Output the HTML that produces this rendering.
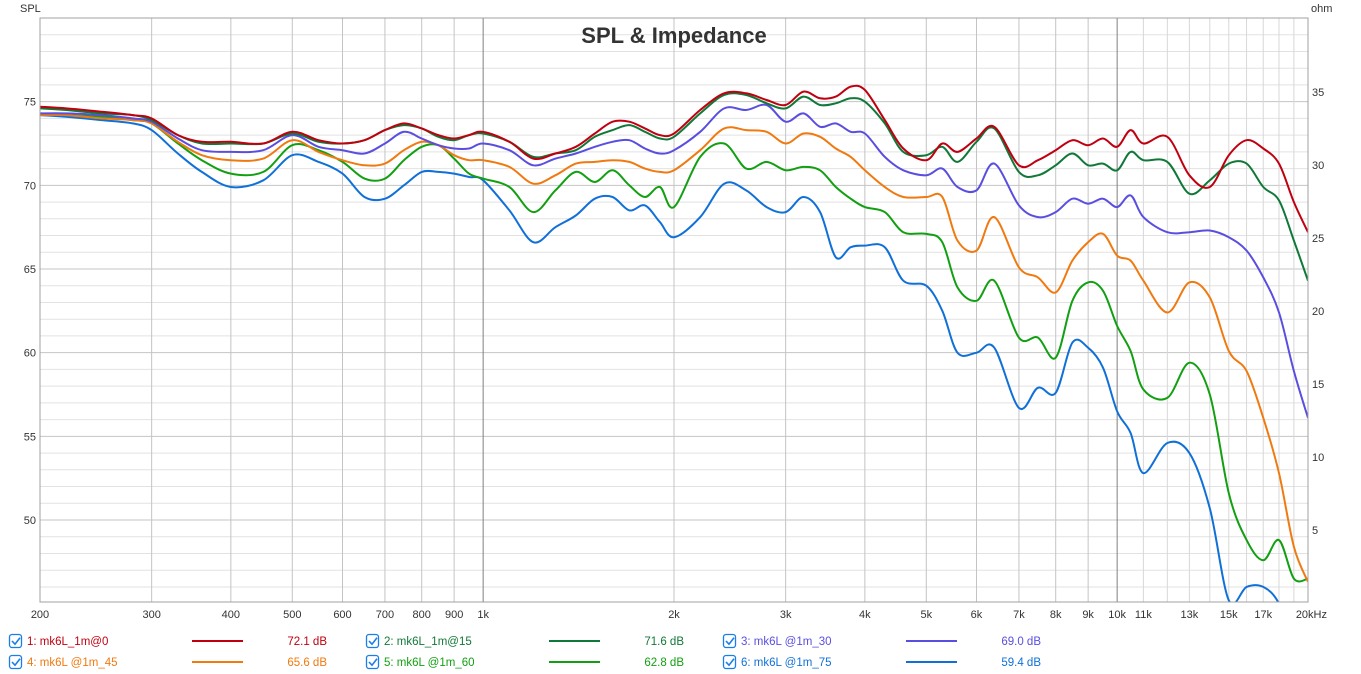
<!DOCTYPE html>
<html><head><meta charset="utf-8">
<style>
html,body{margin:0;padding:0;background:#fff;}
svg{display:block;font-family:"Liberation Sans",sans-serif;}
</style></head>
<body>
<svg id="chart" width="1361" height="674" viewBox="0 0 1361 674">
  <rect x="0" y="0" width="1361" height="674" fill="#fff"/>
  <g id="grid"></g>
  <g id="series" clip-path="url(#plotclip)"></g>
  <defs><clipPath id="plotclip"><rect x="40" y="18" width="1268" height="584"/></clipPath></defs>
  <rect x="40" y="18" width="1268" height="584" fill="none" stroke="#a0a0a0"/>
  <text x="674" y="43" text-anchor="middle" font-size="22" font-weight="bold" fill="#333">SPL &amp; Impedance</text>
  <text x="20" y="12" font-size="11" fill="#333">SPL</text>
  <text x="1311" y="12" font-size="11" fill="#333">ohm</text>
  <g id="axes"></g>
  <g id="legend"></g>
</svg>
<script>
const freqs = [200,220,250,280,300,330,360,400,450,500,550,600,650,700,750,800,850,900,950,1000,1100,1200,1300,1400,1500,1600,1700,1800,1900,2000,2200,2400,2600,2800,3000,3200,3400,3600,3800,4000,4300,4600,5000,5300,5600,6000,6400,7000,7500,8000,8500,9000,9500,10000,10500,11000,12000,13000,14000,15000,16000,17000,18000,19000,20000];
const s1 = [74.7,74.6,74.4,74.2,74.0,73.0,72.6,72.6,72.5,73.2,72.7,72.5,72.7,73.3,73.7,73.4,73.0,72.8,73.0,73.2,72.6,71.6,71.9,72.3,73.1,73.8,73.8,73.4,73.0,73.1,74.5,75.5,75.5,75.1,74.8,75.6,75.2,75.3,75.9,75.7,73.9,72.2,71.5,72.5,72.0,72.8,73.5,71.2,71.5,72.1,72.7,72.4,72.8,72.3,73.3,72.5,72.9,70.6,69.9,71.8,72.7,72.2,71.3,69.0,67.2];
const s2 = [74.6,74.5,74.3,74.2,73.9,73.0,72.5,72.5,72.5,73.1,72.6,72.5,72.7,73.3,73.6,73.4,72.9,72.7,73.0,73.1,72.6,71.7,71.9,72.1,72.9,73.3,73.6,73.2,72.8,72.9,74.3,75.4,75.4,74.9,74.6,75.3,74.8,74.9,75.2,75.0,73.7,72.0,71.8,72.3,71.4,72.6,73.4,70.8,70.6,71.2,71.9,71.2,71.3,70.9,72.0,71.5,71.4,69.5,70.3,71.3,71.3,69.9,69.1,66.7,64.3];
const s3 = [74.3,74.3,74.2,74.0,73.8,72.8,72.1,72.0,72.1,73.0,72.3,72.1,71.9,72.5,73.2,72.8,72.4,72.2,72.2,72.5,72.1,71.2,71.6,71.9,72.3,72.6,72.7,72.2,71.9,72.1,73.2,74.6,74.5,74.8,73.8,74.3,73.5,73.7,73.2,73.1,71.7,70.9,70.6,71.0,69.9,69.7,71.3,68.8,68.1,68.4,69.2,68.9,69.2,68.7,69.4,68.1,67.2,67.2,67.3,66.9,66.1,64.5,62.4,58.9,56.1];
const s4 = [74.2,74.2,74.0,73.9,73.7,72.6,71.8,71.5,71.6,72.7,72.0,71.5,71.2,71.3,72.1,72.6,72.4,71.8,71.5,71.5,71.1,70.1,70.6,71.3,71.4,71.5,71.4,71.0,70.8,70.9,72.1,73.4,73.3,73.2,72.5,73.1,72.9,72.2,71.7,70.9,69.9,69.3,69.3,69.3,66.7,66.1,68.1,65.1,64.5,63.6,65.5,66.6,67.1,65.8,65.5,64.3,62.4,64.2,63.3,60.1,58.9,56.1,52.8,48.4,46.3];
const s5 = [74.3,74.2,74.1,73.9,73.7,72.5,71.5,70.7,70.8,72.4,72.1,71.4,70.4,70.4,71.5,72.3,72.4,71.6,70.7,70.4,69.9,68.4,69.7,70.8,70.2,70.9,70.0,69.3,69.9,68.7,71.7,72.5,71.0,71.4,70.9,71.1,70.9,69.9,69.2,68.7,68.4,67.2,67.1,66.6,63.9,63.1,64.3,60.9,60.9,59.7,63.1,64.2,63.7,61.6,60.1,57.8,57.3,59.4,57.5,51.6,48.8,47.6,48.8,46.5,46.5];
const s6 = [74.2,74.1,73.9,73.7,73.3,71.9,70.8,69.9,70.3,71.8,71.4,70.7,69.3,69.2,70.0,70.8,70.8,70.7,70.5,70.3,68.5,66.6,67.5,68.2,69.2,69.3,68.5,68.8,67.8,66.9,68.1,70.1,69.7,68.7,68.4,69.3,68.4,65.7,66.3,66.4,66.3,64.3,64.0,62.5,60.0,60.0,60.3,56.7,57.9,57.6,60.6,60.3,59.1,56.5,55.2,52.8,54.6,54.0,50.7,45.2,46.0,46.0,45.0,42.4,40.4];
const seriesNames = ["1: mk6L_1m@0","2: mk6L_1m@15","3: mk6L @1m_30","4: mk6L @1m_45","5: mk6L @1m_60","6: mk6L @1m_75"];
const seriesAvg = ["72.1 dB","71.6 dB","69.0 dB","65.6 dB","62.8 dB","59.4 dB"];
const yTicks = [50,55,60,65,70,75];
const ohmTicks = [5,10,15,20,25,30,35];
const xTickVals = [200,300,400,500,600,700,800,900,1000,2000,3000,4000,5000,6000,7000,8000,9000,10000,11000,13000,15000,17000,20000];
const xTickLabels = ["200","300","400","500","600","700","800","900","1k","2k","3k","4k","5k","6k","7k","8k","9k","10k","11k","13k","15k","17k","20kHz"];

const colors = ["#c00010","#107838","#5a4ee0","#f07a10","#12a012","#1070d8"];
const X0=40,X1=1308,Y0=18,Y1=602, DBMIN=45.1, DBMAX=80.0;
const xs = f => X0 + (X1-X0)*Math.log10(f/200)/2;
const ys = d => Y1 - (Y1-Y0)*(d-DBMIN)/(DBMAX-DBMIN);
const ohmY = o => 530 - (o-5)*14.6;
const NS="http://www.w3.org/2000/svg";
function mk(tag,attrs,parent){const e=document.createElementNS(NS,tag);for(const k in attrs)e.setAttribute(k,attrs[k]);parent.appendChild(e);return e;}

const grid=document.getElementById('grid');
for(let d=46; d<=80; d++){
  const l=mk('line',{x1:X0,x2:X1,y1:ys(d),y2:ys(d),stroke:d%5===0?'#c4c4c4':'#e2e2e2','stroke-width':1},grid);
  
  
}
const vlines=[];
for(let f=300;f<=1000;f+=100)vlines.push(f);
for(let f=2000;f<=20000;f+=1000)vlines.push(f);
vlines.forEach(f=>{
  const major=(f===1000||f===10000);
  const minor=f>10000;
  const l=mk('line',{x1:xs(f),x2:xs(f),y1:Y0,y2:Y1,stroke:major?'#808080':(minor?'#d8d8d8':'#c4c4c4'),'stroke-width':1},grid);
  
  
});

const axes=document.getElementById('axes');
yTicks.forEach(v=>{
  const t=mk('text',{x:36,y:ys(v)+4,'text-anchor':'end','font-size':11,fill:'#333'},axes);
  t.textContent=v;
  
  
});
ohmTicks.forEach(v=>{
  const t=mk('text',{x:1312,y:ohmY(v)+4,'font-size':11,fill:'#333'},axes);
  t.textContent=v;
  
  
});
xTickVals.forEach((f,i)=>{
  const anchor = i===xTickVals.length-1 ? 'end' : 'middle';
  const t=mk('text',{x:i===xTickVals.length-1?1327:xs(f),y:618,'text-anchor':anchor,'font-size':11,fill:'#333'},axes);
  t.textContent=xTickLabels[i];
  
  
});

function pathFor(vals){
  const p=freqs.map((f,i)=>[xs(f),ys(vals[i])]);
  let d='M'+p[0][0].toFixed(1)+','+p[0][1].toFixed(1);
  for(let i=0;i<p.length-1;i++){
    const a=p[Math.max(0,i-1)],b=p[i],c=p[i+1],e=p[Math.min(p.length-1,i+2)];
    const c1=[b[0]+(c[0]-a[0])/6,b[1]+(c[1]-a[1])/6];
    const c2=[c[0]-(e[0]-b[0])/6,c[1]-(e[1]-b[1])/6];
    d+=' C'+c1[0].toFixed(1)+','+c1[1].toFixed(1)+' '+c2[0].toFixed(1)+','+c2[1].toFixed(1)+' '+c[0].toFixed(1)+','+c[1].toFixed(1);
  }
  return d;
}
const allSeries=[s1,s2,s3,s4,s5,s6];
const sg=document.getElementById('series');
[5,4,3,2,1,0].forEach(i=>{
  const p=mk('path',{d:pathFor(allSeries[i]),fill:'none',stroke:colors[i],'stroke-width':2,'stroke-linejoin':'round'},sg);
  
  
});

const lg=document.getElementById('legend');
seriesNames.forEach((name,i)=>{
  const col=i%3,row=Math.floor(i/3);
  const ox=col*357, cy=641+row*21;
  const g=mk('g',{},lg);
  
  
  const cb=mk('g',{},g);
  
  
  mk('rect',{x:ox+9.5,y:cy-6.5,width:12,height:13,rx:2.5,fill:'#fff',stroke:'#1a7ee8','stroke-width':1.3},cb);
  mk('path',{d:`M${ox+12},${cy} l3,3.2 l5,-6.5`,fill:'none',stroke:'#1a7ee8','stroke-width':1.6},cb);
  const t=mk('text',{x:ox+27,y:cy+4,'font-size':11.5,fill:colors[i]},g);
  t.textContent=name;
  
  
  const l=mk('line',{x1:ox+192,x2:ox+243,y1:cy,y2:cy,stroke:colors[i],'stroke-width':2},g);
  
  
  const v=mk('text',{x:ox+327,y:cy+4,'text-anchor':'end','font-size':11.5,fill:colors[i]},g);
  v.textContent=seriesAvg[i];
  
  
});
</script>
</body></html>
